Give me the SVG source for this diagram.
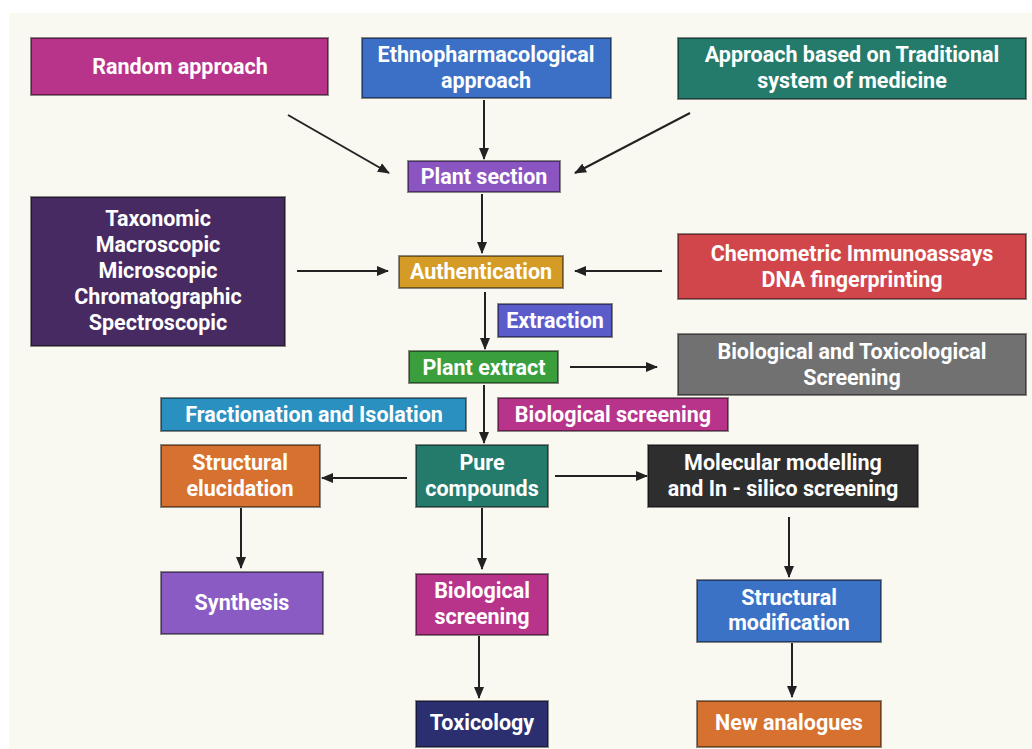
<svg xmlns="http://www.w3.org/2000/svg" width="1032" height="749" viewBox="0 0 1032 749">
<defs>
<marker id="ah" viewBox="0 0 12 10" refX="11" refY="5" markerWidth="12" markerHeight="10" markerUnits="userSpaceOnUse" orient="auto">
<path d="M0,0 L12,5 L0,10 z" fill="#222"/>
</marker>
<style>
.b{stroke:#000;stroke-opacity:0.45;stroke-width:2}
.t{font-family:Roboto,"Liberation Sans",sans-serif;font-weight:bold;font-size:21.5px;fill:#fff;text-anchor:middle}
.c{stroke:#222;stroke-width:2;fill:none;marker-end:url(#ah)}
</style>
</defs>
<rect x="0" y="0" width="1032" height="749" fill="#fff"/>
<rect x="9" y="13" width="1023" height="736" fill="#f9f8f1"/>
<g id="connectors">
<line class="c" x1="288" y1="115" x2="389" y2="173"/>
<line class="c" x1="484" y1="100" x2="484" y2="159"/>
<line class="c" x1="690" y1="113" x2="575" y2="173"/>
<line class="c" x1="482" y1="194" x2="482" y2="253"/>
<line class="c" x1="297" y1="271" x2="388" y2="271"/>
<line class="c" x1="662" y1="271" x2="575" y2="271"/>
<line class="c" x1="485" y1="292" x2="485" y2="349"/>
<line class="c" x1="570" y1="367" x2="657" y2="367"/>
<line class="c" x1="484" y1="385" x2="484" y2="443"/>
<line class="c" x1="407" y1="478" x2="322" y2="478"/>
<line class="c" x1="555" y1="476" x2="647" y2="476"/>
<line class="c" x1="241" y1="508" x2="241" y2="568"/>
<line class="c" x1="482" y1="508" x2="482" y2="569"/>
<line class="c" x1="479" y1="636" x2="479" y2="698"/>
<line class="c" x1="789" y1="517" x2="789" y2="577"/>
<line class="c" x1="792" y1="643" x2="792" y2="697"/>
</g>
<g id="random"><rect class="b" x="31" y="38" width="297" height="57" fill="#b8348b"/><text class="t" x="180" y="73.5">Random approach</text></g>
<g id="ethno"><rect class="b" x="362" y="38" width="249" height="60" fill="#3b70c6"/><text class="t" x="486" y="61.5">Ethnopharmacological</text><text class="t" x="486" y="87.5">approach</text></g>
<g id="traditional"><rect class="b" x="678" y="38" width="348" height="61" fill="#247b6c"/><text class="t" x="852" y="61.5">Approach based on Traditional</text><text class="t" x="852" y="87.5">system of medicine</text></g>
<g id="plant-section"><rect class="b" x="408" y="161" width="152" height="31" fill="#8b55c1"/><text class="t" x="484" y="183.5">Plant section</text></g>
<g id="taxonomic"><rect class="b" x="31" y="197" width="254" height="149" fill="#472a62"/><text class="t" x="158" y="225.5">Taxonomic</text><text class="t" x="158" y="251.5">Macroscopic</text><text class="t" x="158" y="277.5">Microscopic</text><text class="t" x="158" y="303.5">Chromatographic</text><text class="t" x="158" y="329.5">Spectroscopic</text></g>
<g id="authentication"><rect class="b" x="399" y="256" width="164" height="32" fill="#d59b27"/><text class="t" x="481" y="278.5">Authentication</text></g>
<g id="chemometric"><rect class="b" x="678" y="234" width="348" height="65" fill="#d1464b"/><text class="t" x="852" y="260.5">Chemometric Immunoassays</text><text class="t" x="852" y="286.5">DNA fingerprinting</text></g>
<g id="extraction"><rect class="b" x="498" y="304" width="114" height="33" fill="#5a5cca"/><text class="t" x="555" y="327.5">Extraction</text></g>
<g id="plant-extract"><rect class="b" x="409" y="351" width="149" height="32" fill="#3a9e3d"/><text class="t" x="484" y="374.5">Plant extract</text></g>
<g id="biotox"><rect class="b" x="678" y="334" width="348" height="61" fill="#717171"/><text class="t" x="852" y="358.5">Biological and Toxicological</text><text class="t" x="852" y="384.5">Screening</text></g>
<g id="fractionation"><rect class="b" x="161" y="398" width="305" height="33" fill="#2a90c0"/><text class="t" x="314" y="421.5">Fractionation and Isolation</text></g>
<g id="bioscreen-wide"><rect class="b" x="498" y="398" width="230" height="33" fill="#b8348b"/><text class="t" x="613" y="421.5">Biological screening</text></g>
<g id="struct-eluc"><rect class="b" x="161" y="445" width="159" height="62" fill="#d7712f"/><text class="t" x="240" y="469.5">Structural</text><text class="t" x="240" y="495.5">elucidation</text></g>
<g id="pure"><rect class="b" x="416" y="445" width="132" height="62" fill="#247b6c"/><text class="t" x="482" y="469.5">Pure</text><text class="t" x="482" y="495.5">compounds</text></g>
<g id="molecular"><rect class="b" x="648" y="445" width="270" height="62" fill="#2e2e2e"/><text class="t" x="783" y="469.5">Molecular modelling</text><text class="t" x="783" y="495.5">and In - silico screening</text></g>
<g id="synthesis"><rect class="b" x="161" y="572" width="162" height="62" fill="#8b5bc4"/><text class="t" x="242" y="609.5">Synthesis</text></g>
<g id="bioscreen"><rect class="b" x="416" y="574" width="132" height="61" fill="#b8348b"/><text class="t" x="482" y="597.5">Biological</text><text class="t" x="482" y="623.5">screening</text></g>
<g id="struct-mod"><rect class="b" x="697" y="580" width="184" height="62" fill="#3b72c5"/><text class="t" x="789" y="604.5">Structural</text><text class="t" x="789" y="629.5">modification</text></g>
<g id="toxicology"><rect class="b" x="416" y="701" width="132" height="46" fill="#2b2f6f"/><text class="t" x="482" y="729.5">Toxicology</text></g>
<g id="new-analogues"><rect class="b" x="697" y="701" width="184" height="46" fill="#d7712f"/><text class="t" x="789" y="729.5">New analogues</text></g>
</svg>
